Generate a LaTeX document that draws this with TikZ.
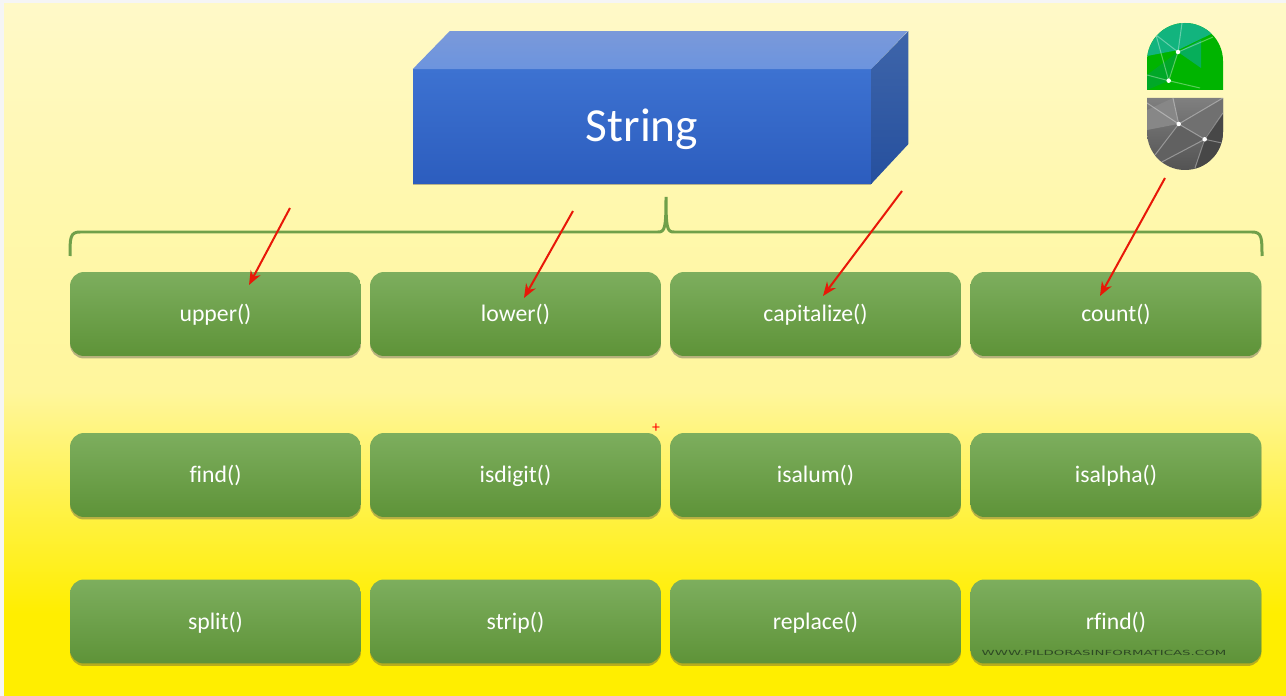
\documentclass[tikz,border=0pt]{standalone}
\usepackage{fontspec}
\setmainfont[Ligatures=NoCommon]{Carlito}
\newfontfamily\webfont{DejaVu Sans}
\usetikzlibrary{shadows,arrows.meta}
\definecolor{bgtop}{HTML}{FFF9C8}
\definecolor{bgupper}{HTML}{FFF8AE}
\definecolor{bgmid}{HTML}{FFF69C}
\definecolor{bglow}{HTML}{FFF24A}
\definecolor{bgbottom}{HTML}{FFEE00}
\definecolor{boxtop}{HTML}{7DAE5E}
\definecolor{boxbottom}{HTML}{5E9338}
\definecolor{bracegreen}{HTML}{70A04A}
\definecolor{arrowred}{HTML}{E81808}
\definecolor{fronttop}{HTML}{3D72D1}
\definecolor{frontbottom}{HTML}{2C5DBE}
\definecolor{lidtop}{HTML}{7A99DA}
\definecolor{lidbottom}{HTML}{6C94DE}
\definecolor{sidetop}{HTML}{3E65AA}
\definecolor{sidebottom}{HTML}{26509E}
\definecolor{logogreen}{HTML}{00B400}
\definecolor{logoteal}{HTML}{12B47E}
\definecolor{logomid}{HTML}{06AE5A}
\definecolor{logodark}{HTML}{00A828}
\definecolor{websitegray}{HTML}{2E4A24}
\pgfdeclareverticalshading{bgshade}{100bp}{
  color(0bp)=(bgbottom); color(31bp)=(bgbottom); color(39bp)=(bglow);
  color(47bp)=(bgmid); color(61bp)=(bgupper); color(75bp)=(bgtop); color(100bp)=(bgtop)
}
\tikzset{
  methodbox/.style={
    shape = rectangle,
    rounded corners = 0.28cm,
    minimum width = 5.82cm,
    minimum height = 1.68cm,
    inner sep = 0pt,
    top color = boxtop,
    bottom color = boxbottom,
    text = white,
    text height = 11pt,
    text depth = 2pt,
    font = \fontsize{13.5pt}{16pt}\selectfont,
    drop shadow = {shadow xshift=0pt, shadow yshift=-0.05cm, opacity=0.4, fill=black!70}
  },
  brace/.style={
    draw = bracegreen,
    line width = 0.06cm
  },
  pointer/.style={
    -{Stealth[length=0.28cm,width=0.22cm]},
    draw = arrowred,
    line width = 0.04cm
  },
  facet/.style={
    draw = white,
    draw opacity = 0.35,
    line width = 0.02cm
  },
  spot/.style={
    shape = circle,
    fill = white,
    inner sep = 0pt,
    minimum size = 0.09cm
  }
}
\begin{document}
\begin{tikzpicture}[x=0.02cm,y=-0.02cm]
        \useasboundingbox (0,0) rectangle (1286,696);
        % page
        \fill[black!4] (0,0) rectangle (1286,696);
        \shade[shading=bgshade] (4,4) rectangle (1286,696);

        % block
        \node[shape=rectangle, minimum width=9.16cm, minimum height=2.28cm, inner sep=0pt,
              top color=fronttop, bottom color=frontbottom,
              text=white, text height=22pt, text depth=4.8pt, font=\fontsize{27pt}{32pt}\selectfont,
              drop shadow={shadow xshift=0pt, shadow yshift=-0.04cm, opacity=0.4, fill=black!70}]
              (string) at (642,126.5) {String};
        \shade[top color=lidtop, bottom color=lidbottom]
              (string.north west) -- ++(37,-38) -- ++(458,0) -- (string.north east) -- cycle;
        \shade[top color=sidetop, bottom color=sidebottom]
              (string.north east) -- ++(37,-38) -- ++(0,113) -- (string.south east) -- cycle;

        % brace
        \draw[brace] (70,256) .. controls (70,238) and (70,232) .. (80,232) -- (658,232)
              .. controls (665,232) and (666,228) .. (666,197)
              .. controls (666,228) and (667,232) .. (674,232) -- (1252,232)
              .. controls (1262,232) and (1262,238) .. (1262,256);

        % methods
        \node[methodbox] (upper) at (215.5,314) {upper()};
        \node[methodbox] (lower) at (515.5,314) {lower()};
        \node[methodbox] (capitalize) at (815.5,314) {capitalize()};
        \node[methodbox] (count) at (1116,314) {count()};

        \node[methodbox] (find) at (215.5,475) {find()};
        \node[methodbox] (isdigit) at (515.5,475) {isdigit()};
        \node[methodbox] (isalum) at (815.5,475) {isalum()};
        \node[methodbox] (isalpha) at (1116,475) {isalpha()};

        \node[methodbox] (split) at (215.5,621.5) {split()};
        \node[methodbox] (strip) at (515.5,621.5) {strip()};
        \node[methodbox] (replace) at (815.5,621.5) {replace()};
        \node[methodbox] (rfind) at (1116,621.5) {rfind()};

        % arrows
        \coordinate (fromUpper) at (290,208);
        \coordinate (fromLower) at (573,211);
        \coordinate (fromCapitalize) at (902,191);
        \coordinate (fromCount) at (1165,178);
        \coordinate (toUpper) at (249,285);
        \coordinate (toLower) at (524,298);
        \coordinate (toCapitalize) at (823,296);
        \coordinate (toCount) at (1100,296);
        \draw[pointer] (fromUpper) -- (toUpper);
        \draw[pointer] (fromLower) -- (toLower);
        \draw[pointer] (fromCapitalize) -- (toCapitalize);
        \draw[pointer] (fromCount) -- (toCount);

        \node[text=red, font=\fontsize{9pt}{10pt}\selectfont, inner sep=0pt] (cursor) at (656,428.5) {+};

        % logo
        \begin{scope}
            \clip (1147,90) -- (1147,61) arc[start angle=180, end angle=0, x radius=38, y radius=-38] -- (1223,90) -- cycle;
            \fill[logogreen] (1140,20) rectangle (1230,92);
            \fill[logoteal] (1147,20) -- (1205,20) -- (1213,33) -- (1178,50) -- (1147,56) -- cycle;
            \fill[logomid] (1178,52) -- (1201,40) -- (1201,68) -- cycle;
            \fill[logodark] (1147,75) -- (1178,52) -- (1168,81) -- (1147,90) -- cycle;
            \draw[facet] (1156,35) -- (1178,52) -- (1182,23);
            \draw[facet] (1156,35) -- (1168.7,80.7) -- (1178,52) -- (1213,37);
            \draw[facet] (1147,75) -- (1168.7,80.7) -- (1200,88);
        \end{scope}
        \begin{scope}
            \clip (1147,98) -- (1147,132) arc[start angle=180, end angle=360, x radius=38, y radius=-38] -- (1223,98) -- cycle;
            \shade[top color=black!50, bottom color=black!68] (1140,98) rectangle (1230,172);
            \fill[black!47] (1147,110) -- (1173,98) -- (1178,124) -- (1147,130) -- cycle;
            \fill[black!56] (1178,124) -- (1223,98) -- (1223,113) -- (1204,139) -- cycle;
            \fill[black!62] (1155,155) -- (1178,124) -- (1204,139) -- (1160,163) -- cycle;
            \fill[black!72] (1204,139) -- (1223,113) -- (1223,170) -- (1195,170) -- cycle;
            \draw[facet] (1147,103) -- (1178.7,124) -- (1204.7,139.3) -- (1160,163);
            \draw[facet] (1173,98) -- (1178.7,124) -- (1223,98);
            \draw[facet] (1178.7,124) -- (1155,155);
            \draw[facet] (1195,168) -- (1204.7,139.3) -- (1223,113);
            \draw[facet] (1204.7,139.3) -- (1222,143);
        \end{scope}
        \node[spot] (greenA) at (1178,52) {};
        \node[spot] (greenB) at (1168.7,80.7) {};
        \node[spot] (grayA) at (1178.7,124) {};
        \node[spot] (grayB) at (1204.7,139.3) {};

        % watermark
        \node[transform shape, xscale=1.9, text=websitegray, inner sep=0pt,
              font=\webfont\fontsize{4pt}{5pt}\selectfont] (site) at (1104,653) {WWW.PILDORASINFORMATICAS.COM};
    \end{tikzpicture}
\end{document}
